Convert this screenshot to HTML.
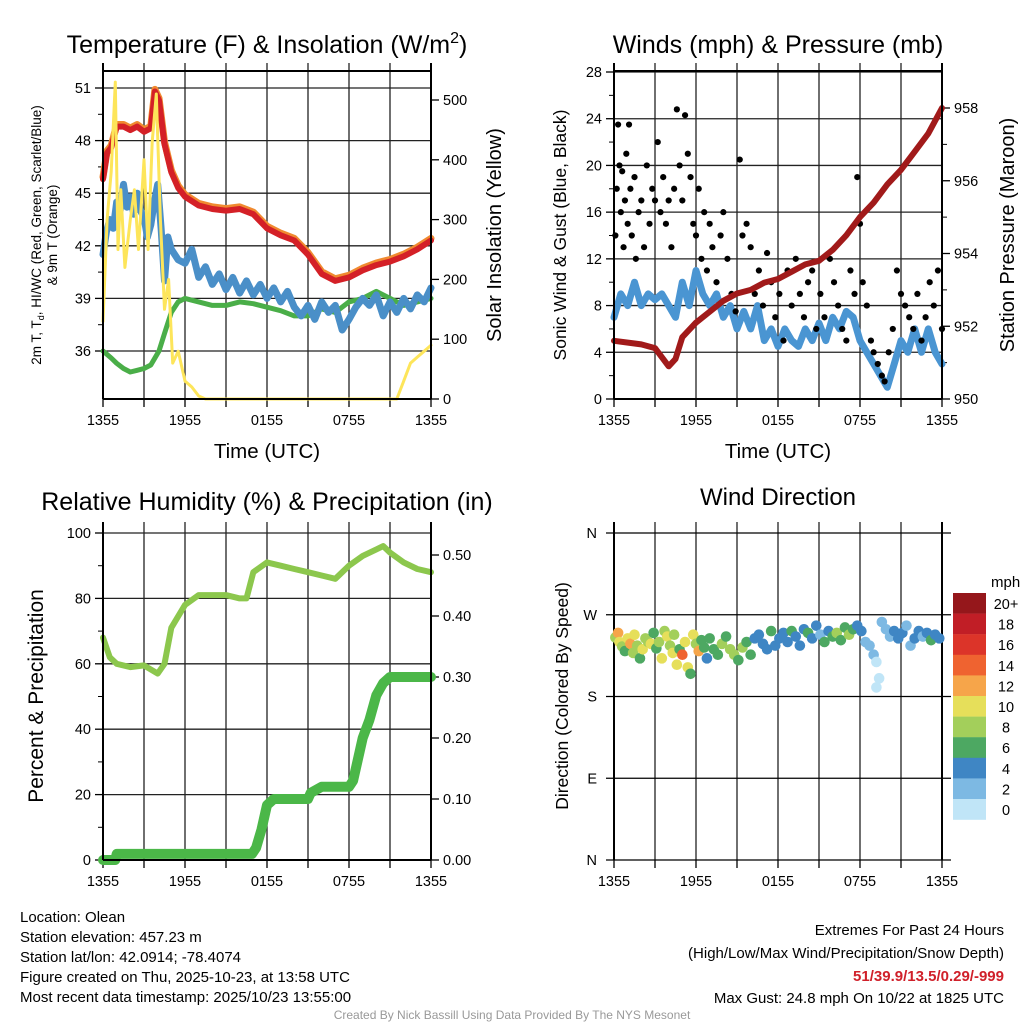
<!DOCTYPE html>
<html><head><meta charset="utf-8"><style>
html,body{margin:0;padding:0;background:#fff;}
svg{display:block;font-family:"Liberation Sans",Arial,sans-serif;}
</style></head><body>
<svg id="c" width="1024" height="1024" viewBox="0 0 1024 1024" xmlns="http://www.w3.org/2000/svg">
<g id="g"></g>
<text x="267" y="53" font-size="25" text-anchor="middle">Temperature (F) &amp; Insolation (W/m<tspan font-size="16" dy="-10">2</tspan><tspan dy="10">)</tspan></text>
<text x="778" y="53" font-size="25" text-anchor="middle">Winds (mph) &amp; Pressure (mb)</text>
<text x="267" y="510" font-size="25" text-anchor="middle">Relative Humidity (%) &amp; Precipitation (in)</text>
<text x="778" y="505" font-size="24" text-anchor="middle">Wind Direction</text>
<text x="267" y="458" font-size="20.5" text-anchor="middle">Time (UTC)</text>
<text x="778" y="458" font-size="20.5" text-anchor="middle">Time (UTC)</text>
<text transform="translate(41,235) rotate(-90)" font-size="13.5" text-anchor="middle">2m T, T<tspan font-size="9" dy="3">d</tspan><tspan dy="-3">, HI/WC (Red, Green, Scarlet/Blue)</tspan></text>
<text transform="translate(57,235) rotate(-90)" font-size="13.5" text-anchor="middle">&amp; 9m T (Orange)</text>
<text transform="translate(501,235) rotate(-90)" font-size="20" text-anchor="middle">Solar Insolation (Yellow)</text>
<text transform="translate(566,235) rotate(-90)" font-size="17.5" text-anchor="middle">Sonic Wind &amp; Gust (Blue, Black)</text>
<text transform="translate(1014,235) rotate(-90)" font-size="20" text-anchor="middle">Station Pressure (Maroon)</text>
<text transform="translate(43,696) rotate(-90)" font-size="21" text-anchor="middle">Percent &amp; Precipitation</text>
<text transform="translate(568,696) rotate(-90)" font-size="17.5" text-anchor="middle">Direction (Colored By Speed)</text>
<text x="991" y="587" font-size="15">mph</text>
<g font-size="15">
<text x="20" y="922">Location: Olean</text>
<text x="20" y="942">Station elevation: 457.23 m</text>
<text x="20" y="962">Station lat/lon: 42.0914; -78.4074</text>
<text x="20" y="982">Figure created on Thu, 2025-10-23, at 13:58 UTC</text>
<text x="20" y="1002">Most recent data timestamp: 2025/10/23 13:55:00</text>
</g>
<g font-size="15" text-anchor="end">
<text x="1004" y="935">Extremes For Past 24 Hours</text>
<text x="1004" y="958">(High/Low/Max Wind/Precipitation/Snow Depth)</text>
<text x="1004" y="981" fill="#d0202a" font-weight="bold">51/39.9/13.5/0.29/-999</text>
<text x="1004" y="1003">Max Gust: 24.8 mph On 10/22 at 1825 UTC</text>
</g>
<text x="512" y="1019" font-size="12" fill="#999" text-anchor="middle">Created By Nick Bassill Using Data Provided By The NYS Mesonet</text>
</svg>
<script>
// ---- data ----
const timeTickLabels = ["1355","1955","0155","0755","1355"];
const tHours = [0,0.3,0.6,1,1.5,2,2.5,3,3.5,3.8,4.1,4.5,5,5.5,6,7,8,9,10,11,12,13,14,15,16,17,18,19,20,21,22,23,24];
const tempRed = [45.8,47.3,47.6,48.8,48.8,48.6,48.8,48.5,48.7,50.8,50.3,47.8,46.2,45.3,44.8,44.3,44.1,44.0,44.1,43.8,43.0,42.6,42.3,41.5,40.4,40.0,40.2,40.6,40.9,41.1,41.4,41.8,42.3];
const blueHours = [0,0.25,0.5,0.75,1,1.25,1.5,1.75,2,2.25,2.5,2.75,3,3.25,3.5,3.75,4,4.25,4.5,4.75,5,5.5,6,6.5,7,7.5,8,8.5,9,9.5,10,10.5,11,11.5,12,12.5,13,13.5,14,14.5,15,15.5,16,16.5,17,17.5,18,18.5,19,19.5,20,20.5,21,21.5,22,22.5,23,23.5,24];
const tempBlue = [41.5,42.8,43.5,43.0,44.5,44.0,45.5,44.2,44.8,43.8,45.0,44.0,43.6,42.5,43.2,44.5,45.5,43.0,40.0,42.5,41.8,41.2,41.0,41.8,40.2,40.8,39.8,40.4,39.5,40.2,39.3,40.0,39.2,39.8,39.0,39.6,38.8,39.4,38.5,38.0,38.6,37.8,38.8,38.2,38.6,37.2,37.8,38.5,39.0,38.6,39.2,38.0,38.8,38.2,39.0,38.4,39.2,38.8,39.6];
const tempGreen = [36.0,35.8,35.6,35.3,35.0,34.8,34.9,35.0,35.2,35.6,36.0,37.0,38.2,38.8,39.0,38.8,38.6,38.6,38.8,38.7,38.5,38.3,38.0,38.0,38.4,38.2,38.8,39.0,39.4,39.0,38.6,38.8,39.0];
const solarHours = [0,0.3,0.6,0.9,1.1,1.3,1.6,2.0,2.3,2.6,3.0,3.3,3.6,3.9,4.2,4.5,4.8,5.1,5.5,6,6.5,7,7.5,21.5,22,22.5,23,23.5,24];
const solarVals = [130,300,380,530,250,350,220,300,350,250,400,250,430,510,300,150,200,60,80,30,20,5,0,0,30,60,70,80,90];
const windHours = [0,0.5,1,1.5,2,2.5,3,3.5,4,4.5,5,5.5,6,6.5,7,7.5,8,8.5,9,9.5,10,10.5,11,11.5,12,12.5,13,13.5,14,14.5,15,15.5,16,16.5,17,17.5,18,18.5,19,19.5,20,20.5,21,21.5,22,22.5,23,23.5,24];
const windSpeed = [7,9,8,10,8,9,8.5,9,8,7,10,8,11,9,8,9,7,8,6,7.5,6,8,5,6,4.5,6,5,4.5,6,5,6.5,5,7,6,7.5,7,5,4,3,2,1,3,5,4,6,4,6,4,3];
const gustHours = [0.1,0.2,0.3,0.4,0.5,0.6,0.7,0.8,0.9,1.0,1.1,1.2,1.3,1.5,1.6,1.8,2.0,2.2,2.4,2.6,2.8,3.0,3.2,3.4,3.6,3.8,4.0,4.2,4.4,4.6,4.8,5.0,5.2,5.4,5.6,5.8,6.0,6.2,6.4,6.6,6.8,7.0,7.2,7.5,7.8,8.0,8.3,8.6,8.9,9.2,9.4,9.7,10.0,10.3,10.6,10.9,11.2,11.5,11.8,12.1,12.4,12.7,13.0,13.3,13.6,13.9,14.2,14.5,14.8,15.1,15.4,15.8,16.1,16.4,16.7,17.0,17.3,17.6,17.8,18.0,18.2,18.5,18.8,19.0,19.3,19.6,19.8,20.1,20.4,20.7,21.0,21.3,21.6,21.9,22.2,22.5,22.8,23.1,23.4,23.7,24.0];
const gustVals = [14,18,23.5,20,16,19.5,13,17,21,15,23.5,18,14,19,12,16,17,13,20,15,18,17,22,16,19,15,17,13,18,24.8,20,17,24.3,21,19,15,14,18,12,16,11,15,13,10,14,16,12,9,7.5,20.5,14,15,13,9,11,8,12.5,10,7,9,5,11,8,12,9,7,10,11,6,9,7,12,10,8,6,5,11,9,19,15,10,8,5,4,3,2,1.5,4,6,11,9,8,7,6,9,5,7,10,8,11,6];
const presHours = [0,2,3,4,4.5,5,6,7,8,9,10,11,12,13,14,15,16,17,18,19,20,21,22,23,24];
const presVals = [951.6,951.5,951.4,950.9,951.1,951.7,952.1,952.4,952.7,952.9,953.0,953.2,953.3,953.5,953.7,953.8,954.1,954.5,955.0,955.4,955.9,956.3,956.8,957.3,958.0];
const rhHours = [0,0.5,1,2,3,4,4.5,5,6,7,8,9,10,10.5,11,12,13,14,15,16,17,18,19,20,20.5,21,22,23,24];
const rhVals = [68,62,60,59,59.5,57,60,71,78,81,81,81,80,80,88,91,90,89,88,87,86,90,93,95,96,94,91,89,88];
const precHours = [0,0.9,1.0,10.9,11.2,11.6,12.0,12.5,15,15.2,16,18,18.3,19,19.5,20,20.5,21,24];
const precVals = [0,0,0.01,0.01,0.02,0.05,0.09,0.10,0.10,0.11,0.12,0.12,0.13,0.20,0.23,0.27,0.29,0.30,0.30];
const dirHours = [0.1,0.3,0.4,0.6,0.8,1.0,1.2,1.4,1.5,1.7,1.9,2.1,2.3,2.5,2.7,2.9,3.1,3.3,3.5,3.7,3.9,4.1,4.3,4.4,4.6,4.8,5.0,5.2,5.4,5.6,5.8,6.0,6.2,6.4,6.6,6.8,7.0,7.3,7.6,7.9,8.2,8.5,8.8,9.1,9.4,9.7,10.0,10.3,10.6,10.9,11.2,11.5,11.8,12.1,12.4,12.7,13.0,13.3,13.6,13.9,14.2,14.5,14.8,15.1,15.4,15.7,16.0,16.3,16.6,16.9,17.2,17.5,17.8,18.1,18.4,18.7,19.0,19.2,19.4,19.2,19.6,19.9,20.2,20.5,20.8,21.1,21.4,21.7,22.0,22.3,22.6,22.9,23.2,23.5,23.8];
const dirVals = [245,250,240,235,230,244,238,228,248,236,222,232,244,240,238,250,233,240,222,252,246,236,228,248,215,232,226,240,212,205,248,238,230,242,234,222,244,232,226,238,246,232,226,220,234,240,226,244,248,238,232,252,236,244,250,240,252,246,236,254,250,244,258,248,240,252,246,250,242,256,248,254,258,252,240,236,226,218,200,190,262,254,246,252,244,250,258,236,244,252,246,250,242,248,244];
const dirSpeed = [8,12,10,9,7,10,12,9,10,8,6,10,8,9,10,6,6,9,10,8,10,8,10,9,10,7,14,10,10,7,10,8,12,6,7,5,6,6,7,8,7,8,8,7,8,6,7,4,5,4,4,6,4,4,4,4,6,4,4,4,6,5,4,3,6,4,7,8,7,6,8,6,4,4,3,3,2,1,1,1,2,2,3,4,5,4,2,2,4,4,3,4,6,4,4];
const cbLabels = ["20+","18","16","14","12","10","8","6","4","2","0"];
const cbColors = ["#95171b","#c11e26","#dc3429","#ef6330","#f6a54a","#e6df5a","#a3cf5b","#4da862","#3f86c4","#7db9e3","#c0e5f7"];

const NS="http://www.w3.org/2000/svg";
const G=document.getElementById('g');
function mk(tag,a,parent){const e=document.createElementNS(NS,tag);for(const k in a)e.setAttribute(k,a[k]);(parent||G).appendChild(e);return e;}
function scale(d0,d1,r0,r1){return v=>r0+(v-d0)/(d1-d0)*(r1-r0);}

function frame(name,x0,y0,x1,y1,top){
  const fx=scale(0,24,x0,x1);
  for(let h=3;h<24;h+=3){const l=mk('line',{x1:fx(h),x2:fx(h),y1:top,y2:y1,stroke:'#222','stroke-width':1.3});
    
    }
  for(let h=0;h<=24;h+=3){const t=mk('line',{x1:fx(h),x2:fx(h),y1:y1,y2:y1+8,stroke:'#000','stroke-width':1.3});
    
    }
  timeTickLabels.forEach((s,i)=>{const t=mk('text',{x:fx(i*6),y:y1+26,'font-size':14.5,'text-anchor':'middle'});t.textContent=s;
    
    });
  return fx;
}
function box(name,x0,y0,x1,y1,top){
  [[x0,top,x0,y1],[x1,top,x1,y1]].forEach(c=>{const l=mk('line',{x1:c[0],y1:c[1],x2:c[2],y2:c[3],stroke:'#000','stroke-width':2});
    
    });
  [[y0],[y1]].forEach(c=>{const l=mk('line',{x1:x0,x2:x1,y1:c[0],y2:c[0],stroke:'#000','stroke-width':2});
    
    });
}
function yaxis(name,x,fy,vals,labels,side,grid,x0,x1,minor){
  vals.forEach((v,i)=>{
    if(grid){const g=mk('line',{x1:x0,x2:x1,y1:fy(v),y2:fy(v),stroke:'#222','stroke-width':1.3});
      
      }
    const t=mk('line',{x1:x,x2:x+(side<0?-8:8),y1:fy(v),y2:fy(v),stroke:'#000','stroke-width':1.3});
    
    
    const tx=mk('text',{x:x+(side<0?-12:12),y:fy(v)+5,'font-size':14.5,'text-anchor':side<0?'end':'start'});tx.textContent=labels[i];
    
    
  });
  (minor||[]).forEach(v=>{const t=mk('line',{x1:x,x2:x+(side<0?-5:5),y1:fy(v),y2:fy(v),stroke:'#000','stroke-width':1});
    
    });
}
function line(name,xs,ys,fx,fy,color,w){
  const d=xs.map((h,i)=>(i?'L':'M')+fx(h).toFixed(1)+','+fy(ys[i]).toFixed(1)).join('');
  const p=mk('path',{d:d,fill:'none',stroke:color,'stroke-width':w,'stroke-linejoin':'round','stroke-linecap':'round'});
  
  
  return p;
}

// Panel 1
let fx=frame('temp',103,71,431,399,63);
let fT=scale(36,51,351,88), fS=scale(0,500,399,100);
yaxis('temp-y',103,fT,[36,39,42,45,48,51],["36","39","42","45","48","51"],-1,true,103,431,[37.5,40.5,43.5,46.5,49.5]);
yaxis('solar-y',431,fS,[0,100,200,300,400,500],["0","100","200","300","400","500"],1,false);
line('series-9m-temp-orange',tHours,tempRed.map(v=>v+0.12),fx,fT,'#f08a30',7);
line('series-2m-temp-red',tHours,tempRed,fx,fT,'#d42027',6);
line('series-dewpoint-green',tHours,tempGreen,fx,fT,'#4aae48',5);
line('series-windchill-blue',blueHours,tempBlue,fx,fT,'#4a8fc8',7);
line('series-solar-yellow',solarHours,solarVals,fx,fS,'#fde55a',3);
box('temp',103,71,431,399,63);

// Panel 2
fx=frame('wind',614,71,942,399,63);
let fW=scale(0,28,399,72), fP=scale(950,958,399,108);
yaxis('wind-y',614,fW,[0,4,8,12,16,20,24,28],["0","4","8","12","16","20","24","28"],-1,true,614,942,[2,6,10,14,18,22,26]);
yaxis('pres-y',942,fP,[950,952,954,956,958],["950","952","954","956","958"],1,false,0,0,[951,953,955,957]);
line('series-wind-speed',windHours,windSpeed,fx,fW,'#4a95d2',7);
gustHours.forEach((h,i)=>{const c=mk('circle',{cx:fx(h),cy:fW(gustVals[i]),r:3.1,fill:'#000'});
  
  });
line('series-pressure',presHours,presVals,fx,fP,'#a11a1a',6);
box('wind',614,71,942,399,63);

// Panel 3
fx=frame('rh',103,533,431,860,522);
let fR=scale(0,100,860,533), fPr=scale(0,0.5,860,555);
yaxis('rh-y',103,fR,[0,20,40,60,80,100],["0","20","40","60","80","100"],-1,true,103,431,[10,30,50,70,90]);
yaxis('precip-y',431,fPr,[0,0.1,0.2,0.3,0.4,0.5],["0.00","0.10","0.20","0.30","0.40","0.50"],1,false);
line('series-rh',rhHours,rhVals,fx,fR,'#8cc74d',6);
line('series-precip',precHours,precVals,fx,fPr,'#4bb748',10);
[[103,522,103,860],[431,522,431,860]].forEach(c=>{const l=mk('line',{x1:c[0],y1:c[1],x2:c[2],y2:c[3],stroke:'#000','stroke-width':2});
  
  });
const rb=mk('line',{x1:103,x2:431,y1:860,y2:860,stroke:'#000','stroke-width':2});



// Panel 4
fx=frame('dir',614,533,942,860,522);
let fD=scale(0,360,860,533);
const dirLbl=["N","E","S","W","N"];
dirLbl.forEach((s,i)=>{const y=fD(i*90);
  const g=mk('line',{x1:606,x2:951,y1:y,y2:y,stroke:'#000','stroke-width':1.3});
  
  
  const t=mk('text',{x:597,y:y+5,'font-size':14.5,'text-anchor':'end'});t.textContent=s;
  
  });
[614,942].forEach(x=>{const l=mk('line',{x1:x,x2:x,y1:522,y2:860,stroke:'#000','stroke-width':2});
  
  });
dirHours.forEach((h,i)=>{const idx=Math.min(10,Math.floor(dirSpeed[i]/2));
  const c=mk('circle',{cx:fx(h),cy:fD(dirVals[i]),r:5.3,fill:cbColors[10-idx]});
  
  });
cbColors.forEach((col,i)=>{const y=593+i*20.6;
  const r=mk('rect',{x:953,y:y,width:33,height:20.8,fill:col});
  
  
  const t=mk('text',{x:1006,y:y+16,'font-size':14.5,'text-anchor':'middle'});t.textContent=cbLabels[i];
  
  });
</script>
</body></html>
